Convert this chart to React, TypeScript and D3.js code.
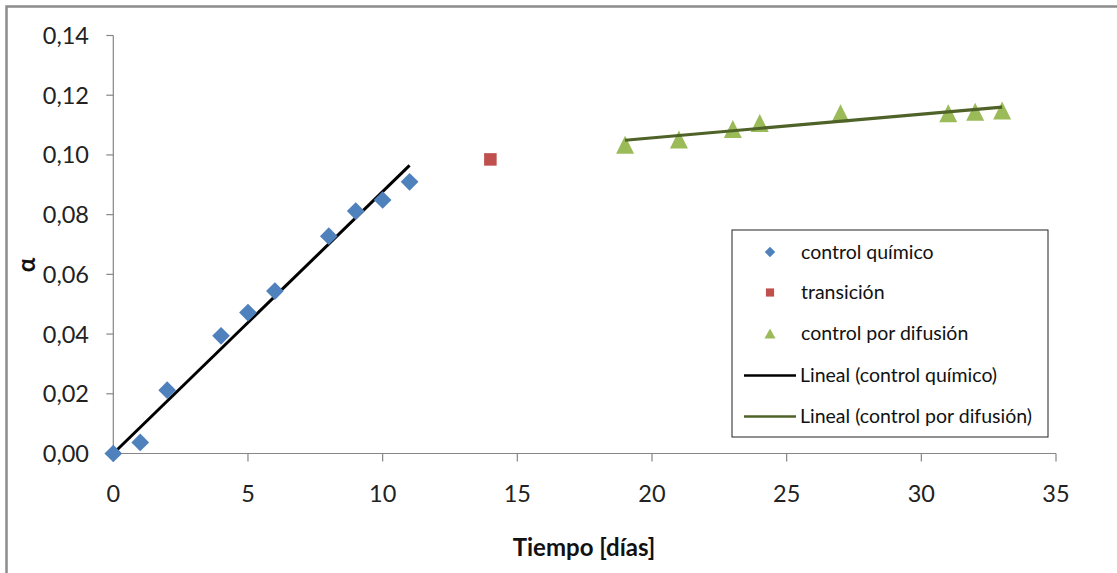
import React from "react";
import * as d3 from "d3";

// Reaction-kinetics data: conversion α versus time in days
const quimicoDias = [0, 1, 2, 4, 5, 6, 8, 9, 10, 11];
const quimicoAlfa = [0, 0.0037, 0.0212, 0.0394, 0.0472, 0.0544, 0.0728, 0.0812, 0.0849, 0.091];

const transicionDias = [14];
const transicionAlfa = [0.0985];

const difusionDias = [19, 21, 23, 24, 27, 31, 32, 33];
const difusionAlfa = [0.1034, 0.1052, 0.1087, 0.1107, 0.114, 0.114, 0.1145, 0.1149];

const xTicks = [0, 5, 10, 15, 20, 25, 30, 35];
const yTicks = [0, 0.02, 0.04, 0.06, 0.08, 0.1, 0.12, 0.14];

const legendItems = [
  "control químico",
  "transición",
  "control por difusión",
  "Lineal (control químico)",
  "Lineal (control por difusión)",
];

const W = 1117;
const H = 573;
const FONT = "Lato, 'Open Sans', sans-serif";

const BLUE = "#4F81BD";
const RED = "#C0504D";
const GREEN = "#9BBB59";
const OLIVE = "#4F6228";
const AXIS = "#868686";

// Least-squares line forced through the origin
function fitOrigin(xs: number[], ys: number[]) {
  const sxy = d3.sum(xs, (x, i) => x * ys[i]);
  const sxx = d3.sum(xs, (x) => x * x);
  const m = sxy / sxx;
  return (x: number) => m * x;
}

// Ordinary least-squares line
function fitOLS(xs: number[], ys: number[]) {
  const mx = d3.mean(xs)!;
  const my = d3.mean(ys)!;
  const sxy = d3.sum(xs, (x, i) => (x - mx) * (ys[i] - my));
  const sxx = d3.sum(xs, (x) => (x - mx) * (x - mx));
  const m = sxy / sxx;
  const b = my - m * mx;
  return (x: number) => m * x + b;
}

// Upward triangle centred on its bounding box
function triPath(w: number, h: number) {
  return `M0,${-h / 2}L${w / 2},${h / 2}L${-w / 2},${h / 2}Z`;
}

export default function App() {
  const x = d3.scaleLinear().domain([0, 35]).range([113.3, 1056]);
  const y = d3.scaleLinear().domain([0, 0.14]).range([453.5, 35.5]);

  const fmt = (v: number) => v.toFixed(2).replace(".", ",");

  const fQ = fitOrigin(quimicoDias, quimicoAlfa);
  const fD = fitOLS(difusionDias, difusionAlfa);

  const qStart = d3.min(quimicoDias)!;
  const qEnd = d3.max(quimicoDias)!;
  const dStart = d3.min(difusionDias)!;
  const dEnd = d3.max(difusionDias)!;

  const diamond = d3.symbol().type(d3.symbolDiamond2);
  const square = d3.symbol().type(d3.symbolSquare2);

  const legX = 732;
  const legY = 230;
  const legRows = [252, 292.5, 333.5, 375.5, 416.5];

  return (
    <svg
      width={W}
      height={H}
      style={{ position: "absolute", left: 0, top: 0, background: "#fff" }}
      fontFamily={FONT}
    >
      {/* chart frame */}
      <rect x={6.5} y={6.5} width={W + 20} height={H + 20} fill="#fff" stroke="#8c8c8c" strokeWidth={2.5} />

      {/* y axis */}
      <line x1={x(0)} x2={x(0)} y1={y(0.14)} y2={y(0)} stroke={AXIS} strokeWidth={1.2} />
      {yTicks.map((t) => (
        <g key={"y" + t}>
          <line x1={x(0) - 7} x2={x(0)} y1={y(t)} y2={y(t)} stroke={AXIS} strokeWidth={1.2} />
          <text x={89} y={y(t)} dy="0.36em" textAnchor="end" fontSize={23.5} fill="#222">
            {fmt(t)}
          </text>
        </g>
      ))}

      {/* x axis */}
      <line x1={x(0)} x2={x(35)} y1={y(0)} y2={y(0)} stroke={AXIS} strokeWidth={1.2} />
      {xTicks.map((t) => (
        <g key={"x" + t}>
          <line x1={x(t)} x2={x(t)} y1={y(0)} y2={y(0) + 8} stroke={AXIS} strokeWidth={1.2} />
          <text x={x(t)} y={502} textAnchor="middle" fontSize={23.5} fill="#222">
            {t}
          </text>
        </g>
      ))}

      {/* axis titles */}
      <text x={584} y={556} textAnchor="middle" fontSize={24} fontWeight="bold" fill="#111">
        Tiempo [días]
      </text>
      <text
        transform={`translate(35,265) rotate(-90)`}
        textAnchor="middle"
        fontSize={24}
        fontWeight="bold"
        fill="#111"
      >
        α
      </text>

      {/* chemical-control trend line */}
      <line
        x1={x(qStart)}
        y1={y(fQ(qStart))}
        x2={x(qEnd)}
        y2={y(fQ(qEnd))}
        stroke="#000"
        strokeWidth={3}
      />

      {/* markers */}
      {quimicoDias.map((d, i) => (
        <path
          key={"q" + i}
          d={diamond.size(200)()!}
          transform={`translate(${x(d)},${y(quimicoAlfa[i])})`}
          fill={BLUE}
        />
      ))}
      {transicionDias.map((d, i) => (
        <path
          key={"t" + i}
          d={square.size(200)()!}
          transform={`translate(${x(d)},${y(transicionAlfa[i])})`}
          fill={RED}
        />
      ))}
      {difusionDias.map((d, i) => (
        <path
          key={"d" + i}
          d={triPath(18, 18)}
          transform={`translate(${x(d)},${y(difusionAlfa[i])})`}
          fill={GREEN}
        />
      ))}

      {/* diffusion-control trend line */}
      <line
        x1={x(dStart)}
        y1={y(fD(dStart))}
        x2={x(dEnd)}
        y2={y(fD(dEnd))}
        stroke={OLIVE}
        strokeWidth={3.2}
      />

      {/* legend */}
      <rect x={legX} y={legY} width={316} height={207} fill="#fff" stroke="#222" strokeWidth={1} />
      <path d={diamond.size(70)()!} transform={`translate(770,${legRows[0]})`} fill={BLUE} />
      <path d={square.size(85)()!} transform={`translate(770,${legRows[1]})`} fill={RED} />
      <path d={triPath(11, 10)} transform={`translate(770,${legRows[2]})`} fill={GREEN} />
      <line x1={744} x2={796} y1={legRows[3]} y2={legRows[3]} stroke="#000" strokeWidth={2.5} />
      <line x1={744} x2={796} y1={legRows[4]} y2={legRows[4]} stroke={OLIVE} strokeWidth={2.5} />
      {legendItems.map((s, i) => (
        <text
          key={s}
          x={i < 3 ? 801 : 800}
          y={legRows[i]}
          dy="0.35em"
          fontSize={19.5}
          fill="#111"
        >
          {s}
        </text>
      ))}
    </svg>
  );
}
